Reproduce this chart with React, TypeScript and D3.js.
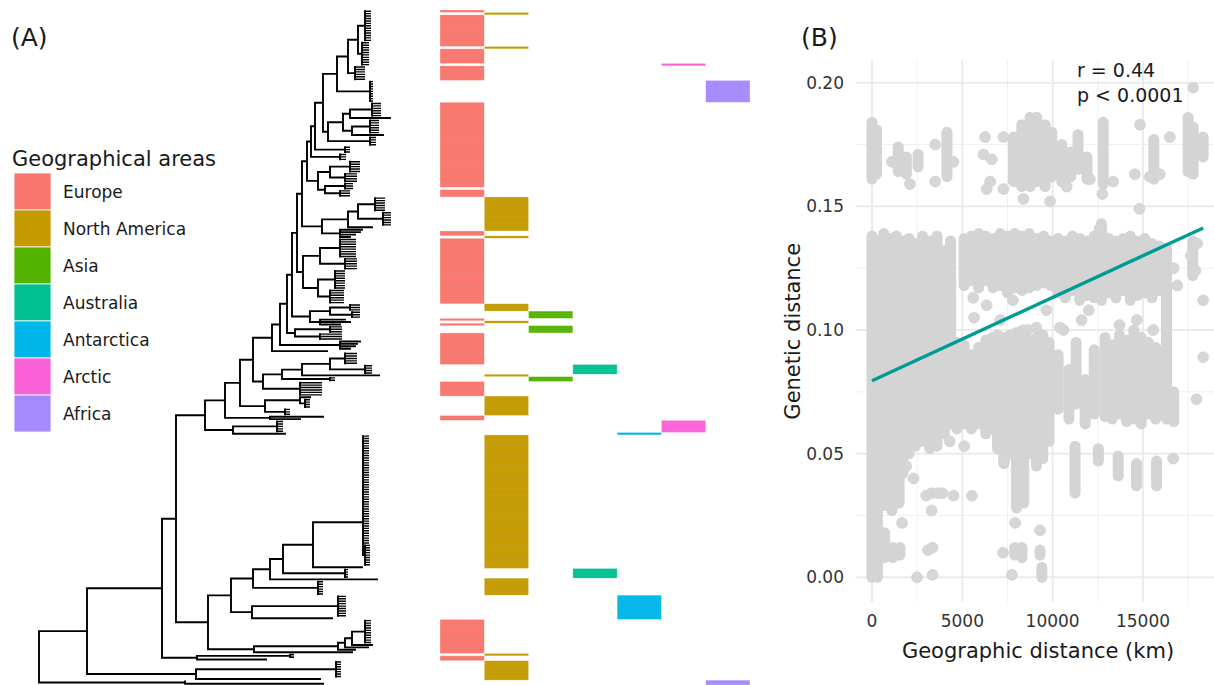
import React from 'react';
import * as d3 from 'd3';

const W = 1214;
const H = 685;
const FONT = "'DejaVu Sans', sans-serif";

// ---------- (A) geographical areas ----------
const areaNames = ['Europe', 'North America', 'Asia', 'Australia', 'Antarctica', 'Arctic', 'Africa'];
const areaColors = ['#F8766D', '#C49A00', '#53B400', '#00C094', '#00B6EB', '#FB61D7', '#A58AFF'];

// runs of consecutive tips in the heatmap (top -> bottom), '' = no area
const runArea = ['Europe', 'North America', 'Europe', 'North America', 'Europe', 'Arctic', 'Europe', 'Africa', 'Europe', '',
  'Europe', 'North America', 'Europe', 'North America', 'Europe', 'North America', 'Asia', 'Europe', 'North America', 'Europe',
  'Asia', 'Europe', 'Australia', 'North America', 'Asia', 'Europe', 'North America', 'Europe', 'Arctic', 'Antarctica',
  'North America', 'Australia', 'North America', 'Antarctica', 'Europe', 'North America', 'Europe', 'North America', 'Africa'];
const runTips = [1, 1, 13, 1, 6, 1, 6, 9, 35, 1, 3, 14, 2, 1, 27, 3, 3, 1, 1, 1, 3, 13, 4, 1, 2, 6, 8, 2, 5, 1, 55, 4, 7, 10, 14, 1, 2, 8, 2];

// tree in newick pieces; a tip label "k~d" is a collapsed clade of k tips, d deep
const crownClade = '((13~0.06:0.07,10~0.07:0.04):0.10,6~0.10:0.07):0.11';
const upperSides: [string, number][] = [
  ['9~0.03:0.33', 0.14],
  ['(((6~0.09:0.22,:0.40):0.07,(6~0.09:0.18,:0.31):0.09):0.15,4~0.06:0.42):0.05', 0.08],
  ['3~0.05:0.30', 0.04],
  ['3~0.06:0.29', 0.04],
  ['((5~0.10:0.20,4~0.12:0.15):0.12,(3~0.08:0.20,3~0.10:0.15):0.07):0.11', 0.05],
  ['(((6~0.10:0.17,6~0.08:0.25):0.10,:0.24):0.26,(:0.22,:0.20,:0.15,:0.10):0.18):0.20', 0.05],
  ['((8~0.16:0.20,5~0.12:0.25):0.17,(8~0.10:0.17,6~0.14:0.12):0.15):0.06', 0.05],
  ['((3~0.10:0.20,3~0.08:0.22):0.20,(:0.25,:0.30,:0.20):0.10):0.18', 0.05],
  ['(3~0.12:0.35,3~0.22:0.25):0.08', 0.07],
  ['(:0.20,:0.17,:0.15,:0.10):0.60', 0.08],
  [':0.55', 0.19],
  ['((((5~0.12:0.15,4~0.07:0.35):0.28,:0.77):0.20,2~0.05:0.48):0.19,6~0.22:0.37):0.10', 0.13],
  ['((:0.10,4~0.05:0.05):0.35,3~0.05:0.20):0.25', 0.15],
  ['(:0.53,:0.30):0.45', 0.20],
  ['(5~0.06:0.44,:0.52):0.28', 0.29],
];
const innerClade = '(45~0.06:0,9~0.05:0.02):0.50';
const lowerSides: [string, number][] = [
  [':0.49', 0.30],
  ['4~0.03:0.62', 0.13],
  [':1.07', 0.17],
  ['6~0.05:0.65', 0.22],
  ['(9~0.08:0.86,:0.80):0.21', 0.23],
  ['((((10~0.06:0.13,:0.20):0.07,:0.23):0.07,:0.17):0.84,:0.98):0.46', 0.32],
];
const baseSides: [string, number][] = [
  ['((:0.03,:0.03):0.93,:0.69):0.35', 0.75],
  ['(7~0.05:1.40,:1.24):1.09', 0.48],
];
const outgroup = '(:0,:1.38):1.46';

const caterpillar = (start: string, steps: [string, number][]) =>
  steps.reduce((t, [side, len]) => `(${t},${side}):${len}`, start);
const newick = `(${caterpillar(
  `(${caterpillar(crownClade, upperSides)},${caterpillar(innerClade, lowerSides)}):0.14`,
  baseSides
)},${outgroup});`;

// ---------- (B) genetic vs geographic distance ----------
// streaks of overlapping pairs: [km, genetic low, genetic high]
const pairStreaks: [number, number, number][] = [
  [0, 0.161, 0.184], [250, 0.163, 0.181], [1450, 0.164, 0.174], [1900, 0.163, 0.170], [2550, 0.166, 0.171], [4150, 0.162, 0.180],
  [7830, 0.160, 0.178], [8290, 0.158, 0.183], [8750, 0.158, 0.186], [9120, 0.160, 0.186], [9580, 0.158, 0.183], [9950, 0.162, 0.180],
  [10500, 0.160, 0.175], [11000, 0.162, 0.172], [11400, 0.165, 0.179], [11900, 0.161, 0.170], [12800, 0.159, 0.184],
  [15600, 0.161, 0.177], [17500, 0.164, 0.186], [17780, 0.163, 0.182], [18330, 0.170, 0.178],
  [0, 0.000, 0.138], [300, 0.000, 0.136], [650, 0.040, 0.139], [1000, 0.036, 0.137], [1350, 0.038, 0.138], [1700, 0.042, 0.136],
  [2050, 0.050, 0.137], [2400, 0.053, 0.135], [2800, 0.055, 0.138], [3200, 0.052, 0.136], [3600, 0.053, 0.138], [4000, 0.058, 0.132],
  [4350, 0.062, 0.136],
  [5100, 0.118, 0.137], [5500, 0.120, 0.138], [5900, 0.117, 0.139], [6300, 0.120, 0.138], [6700, 0.117, 0.137], [7100, 0.118, 0.139],
  [7500, 0.115, 0.138], [7900, 0.117, 0.139], [8300, 0.116, 0.138], [8700, 0.117, 0.139], [9100, 0.118, 0.137], [9500, 0.119, 0.138],
  [9900, 0.118, 0.136], [10300, 0.115, 0.137], [10700, 0.113, 0.136], [11100, 0.116, 0.138], [11500, 0.112, 0.137], [11900, 0.114, 0.136],
  [12300, 0.113, 0.138], [12700, 0.112, 0.143], [13100, 0.115, 0.137], [13500, 0.113, 0.136], [13900, 0.116, 0.137], [14300, 0.112, 0.138],
  [14700, 0.114, 0.136], [15100, 0.115, 0.137], [15500, 0.113, 0.135], [15900, 0.116, 0.134], [16300, 0.100, 0.133], [17750, 0.122, 0.136],
  [4700, 0.060, 0.095], [5100, 0.062, 0.094], [5500, 0.060, 0.090], [5900, 0.062, 0.093], [6300, 0.058, 0.096], [6650, 0.060, 0.097],
  [6950, 0.052, 0.098], [7300, 0.046, 0.097], [7650, 0.050, 0.098], [8000, 0.048, 0.099], [8350, 0.047, 0.100], [8700, 0.050, 0.096],
  [9100, 0.045, 0.097], [9450, 0.048, 0.098], [9800, 0.055, 0.095],
  [10300, 0.068, 0.090], [10900, 0.064, 0.084], [11300, 0.070, 0.095], [11800, 0.062, 0.080], [12300, 0.066, 0.092],
  [12900, 0.065, 0.097], [13300, 0.064, 0.094], [13700, 0.066, 0.098], [14100, 0.063, 0.096], [14500, 0.064, 0.100], [14900, 0.062, 0.097],
  [15300, 0.066, 0.095], [15700, 0.064, 0.093], [16300, 0.064, 0.100], [16700, 0.063, 0.075],
  [700, 0.029, 0.050], [1100, 0.027, 0.048], [1500, 0.030, 0.046], [700, 0.008, 0.018], [1150, 0.008, 0.012], [1550, 0.009, 0.012],
  [8000, 0.028, 0.050], [8400, 0.030, 0.047], [7900, 0.009, 0.012], [8300, 0.008, 0.012], [9300, 0.009, 0.011], [9400, 0.000, 0.004],
  [11240, 0.034, 0.053], [12530, 0.047, 0.052], [13630, 0.041, 0.049], [14640, 0.037, 0.046], [15750, 0.037, 0.047],
];
// isolated pairs: [km, genetic distance]
const pairPoints: [number, number][] = [
  [2100, 0.159], [3500, 0.175], [3500, 0.160], [6260, 0.178], [6170, 0.171], [6630, 0.169], [6540, 0.160], [6350, 0.157],
  [7275, 0.178], [7275, 0.157], [8380, 0.153], [9855, 0.152], [12750, 0.155], [13350, 0.160], [14550, 0.163], [14830, 0.183],
  [16490, 0.178], [17780, 0.198], [15930, 0.163], [15380, 0.162], [10780, 0.158], [12060, 0.161], [4500, 0.168], [1100, 0.168],
  [5600, 0.113], [6350, 0.110], [7100, 0.104], [8600, 0.100], [9100, 0.101], [9650, 0.108], [5650, 0.105], [7800, 0.112],
  [12600, 0.141], [14800, 0.149], [16700, 0.125], [16900, 0.118], [17650, 0.130], [17900, 0.124], [18000, 0.135], [18330, 0.112],
  [17960, 0.072], [18330, 0.089], [10600, 0.100], [11600, 0.104], [12000, 0.108], [10400, 0.101], [13700, 0.102], [14650, 0.104],
  [15565, 0.100], [1660, 0.022], [2490, 0.000], [3000, 0.033], [3300, 0.034], [3650, 0.034], [3900, 0.034], [3300, 0.027],
  [3100, 0.011], [3350, 0.012], [3350, 0.001], [4510, 0.033], [5530, 0.033], [7300, 0.047], [7920, 0.022], [7250, 0.010],
  [7740, 0.001], [9300, 0.019], [16670, 0.048], [2300, 0.040], [1900, 0.045], [4300, 0.055], [5100, 0.053],
];
const fitIntercept = 0.0795;
const fitSlope = 3.37e-6; // per km
const geoTicks = [0, 5000, 10000, 15000];
const geoMinor = [2500, 7500, 12500, 17500];
const genTicks = [0, 0.05, 0.1, 0.15, 0.2];
const genMinor = [0.025, 0.075, 0.125, 0.175];

type TNode = { children: TNode[]; rows: number; depth: number; len: number };

function parseNewick(s: string): TNode {
  let i = 0;
  const read = (): TNode => {
    const n: TNode = { children: [], rows: 1, depth: 0, len: 0 };
    if (s[i] === '(') {
      i++;
      n.children.push(read());
      while (s[i] === ',') { i++; n.children.push(read()); }
      i++;
    }
    let label = '';
    while (i < s.length && !':,();'.includes(s[i])) label += s[i++];
    if (label) {
      const [k, d] = label.split('~');
      n.rows = +k;
      n.depth = d ? +d : 0;
    }
    if (s[i] === ':') {
      i++;
      let num = '';
      while (i < s.length && !',();'.includes(s[i])) num += s[i++];
      n.len = +num;
    }
    return n;
  };
  return read();
}

export default function App() {
  // ----- tree layout -----
  const root: any = d3.hierarchy(parseNewick(newick), (d: TNode) => (d.children.length ? d.children : null));
  root.each((n: any) => { n.dist = n.parent ? n.parent.dist + n.data.len : 0; });
  let r = 0;
  root.leaves().forEach((l: any) => { l.r0 = r; r += l.data.rows; l.r1 = r; l.mid = (l.r0 + l.r1) / 2; });
  root.eachAfter((n: any) => {
    if (n.children) n.mid = (n.children[0].mid + n.children[n.children.length - 1].mid) / 2;
  });
  const totalRows = r;

  const rowY = d3.scaleLinear().domain([0, totalRows]).range([10, 685]);
  const tx = d3.scaleLinear().domain([0, 1]).range([39, 139]);

  // branches
  const tp = d3.path();
  // collapsed tips (thin strokes)
  const cp = d3.path();
  root.each((n: any) => {
    const x = tx(n.dist);
    if (n.parent) { tp.moveTo(tx(n.parent.dist), rowY(n.mid)); tp.lineTo(x, rowY(n.mid)); }
    if (n.children) {
      tp.moveTo(x, rowY(n.children[0].mid));
      tp.lineTo(x, rowY(n.children[n.children.length - 1].mid));
    } else if (n.data.rows > 1) {
      tp.moveTo(x, rowY(n.r0 + 0.5)); tp.lineTo(x, rowY(n.r1 - 0.5));
      for (let k = n.r0; k < n.r1; k++) {
        cp.moveTo(x, rowY(k + 0.5)); cp.lineTo(tx(n.dist + n.data.depth), rowY(k + 0.5));
      }
    }
  });

  // ----- heatmap -----
  let acc = 0;
  const runs = runArea.map((a, i) => { const s = acc; acc += runTips[i]; return { area: a, start: s, end: acc }; });
  const band = d3.scaleBand().domain(areaNames).range([440, 750]);
  const color = d3.scaleOrdinal<string, string>().domain(areaNames).range(areaColors);

  // ----- scatter -----
  const xGeo = d3.scaleLinear().domain([0, 15000]).range([872, 1143]);
  const yGen = d3.scaleLinear().domain([0, 0.2]).range([577.3, 82.7]);
  const kmLo = -916, gLo = -0.00995, gHi = 0.2089;
  const PR = 5.5;
  const fmt = d3.format('.2f');
  const lineEnd = 18330;

  return (
    <svg width={W} height={H} style={{ position: 'absolute', left: 0, top: 0, background: '#fff' }} fontFamily={FONT}>
      <rect width={W} height={H} fill="#fff" />
      {/* panel A */}
      <text x={11} y={46} fontSize={25} fill="#1a1a1a">(A)</text>
      <text x={12} y={166} fontSize={21} fill="#1a1a1a">Geographical areas</text>
      {areaNames.map((a, i) => (
        <g key={a}>
          <rect x={14} y={173 + i * 37} width={37} height={37} fill={color(a)} stroke="#fff" strokeWidth={0.8} />
          <text x={63} y={173 + i * 37 + 24.5} fontSize={17} fill="#1a1a1a">{a}</text>
        </g>
      ))}
      <path d={cp.toString()} fill="none" stroke="#000" strokeWidth={1.4} />
      <path d={tp.toString()} fill="none" stroke="#000" strokeWidth={1.9} strokeLinecap="square" />
      {runs.map((run, i) => run.area ? (
        <g key={'r' + i}>
          <rect x={band(run.area)} y={rowY(run.start)} width={band.bandwidth()} height={rowY(run.end) - rowY(run.start)}
            fill={color(run.area)} stroke="#fff" strokeOpacity={0.5} strokeWidth={0.6} />
          {d3.range(run.start + 1, run.end).map(k => (
            <line key={k} x1={band(run.area)} x2={band(run.area)! + band.bandwidth()} y1={rowY(k)} y2={rowY(k)}
              stroke="#fff" strokeOpacity={0.14} strokeWidth={0.5} />
          ))}
        </g>
      ) : null)}

      {/* panel B */}
      <text x={801} y={46} fontSize={25} fill="#1a1a1a">(B)</text>
      {genMinor.map(g => (
        <line key={'gm' + g} x1={xGeo(kmLo)} x2={W} y1={yGen(g)} y2={yGen(g)} stroke="#F0F0F0" strokeWidth={1} />
      ))}
      {geoMinor.map(k => (
        <line key={'km' + k} x1={xGeo(k)} x2={xGeo(k)} y1={yGen(gHi)} y2={yGen(gLo)} stroke="#F0F0F0" strokeWidth={1} />
      ))}
      {genTicks.map(g => (
        <line key={'g' + g} x1={xGeo(kmLo)} x2={W} y1={yGen(g)} y2={yGen(g)} stroke="#EBEBEB" strokeWidth={2} />
      ))}
      {geoTicks.map(k => (
        <line key={'k' + k} x1={xGeo(k)} x2={xGeo(k)} y1={yGen(gHi)} y2={yGen(gLo)} stroke="#EBEBEB" strokeWidth={2} />
      ))}
      {pairStreaks.map(([km, lo, hi], i) => (
        <rect key={'s' + i} x={xGeo(km) - PR} y={yGen(hi) - PR} width={2 * PR} height={yGen(lo) - yGen(hi) + 2 * PR}
          rx={PR} fill="#D4D4D4" />
      ))}
      {pairPoints.map(([km, g], i) => (
        <circle key={'p' + i} cx={xGeo(km)} cy={yGen(g)} r={PR} fill="#D6D6D6" stroke="#CFCFCF" strokeWidth={0.6} />
      ))}
      <line x1={xGeo(0)} y1={yGen(fitIntercept)} x2={xGeo(lineEnd)} y2={yGen(fitIntercept + fitSlope * lineEnd)}
        stroke="#009B96" strokeWidth={3.4} />
      <text x={1077} y={77} fontSize={19} fill="#1a1a1a">r = 0.44</text>
      <text x={1077} y={102} fontSize={19} fill="#1a1a1a">p &lt; 0.0001</text>
      {genTicks.map(g => (
        <text key={'gt' + g} x={844} y={yGen(g) + 6} fontSize={17} textAnchor="end" fill="#333">{fmt(g)}</text>
      ))}
      {geoTicks.map(k => (
        <text key={'kt' + k} x={xGeo(k)} y={627} fontSize={17} textAnchor="middle" fill="#333">{k}</text>
      ))}
      <text x={1038} y={658} fontSize={21} textAnchor="middle" fill="#1a1a1a">Geographic distance (km)</text>
      <text transform={`translate(800, ${yGen((gLo + gHi) / 2)}) rotate(-90)`} fontSize={21} textAnchor="middle" fill="#1a1a1a">
        Genetic distance
      </text>
    </svg>
  );
}
